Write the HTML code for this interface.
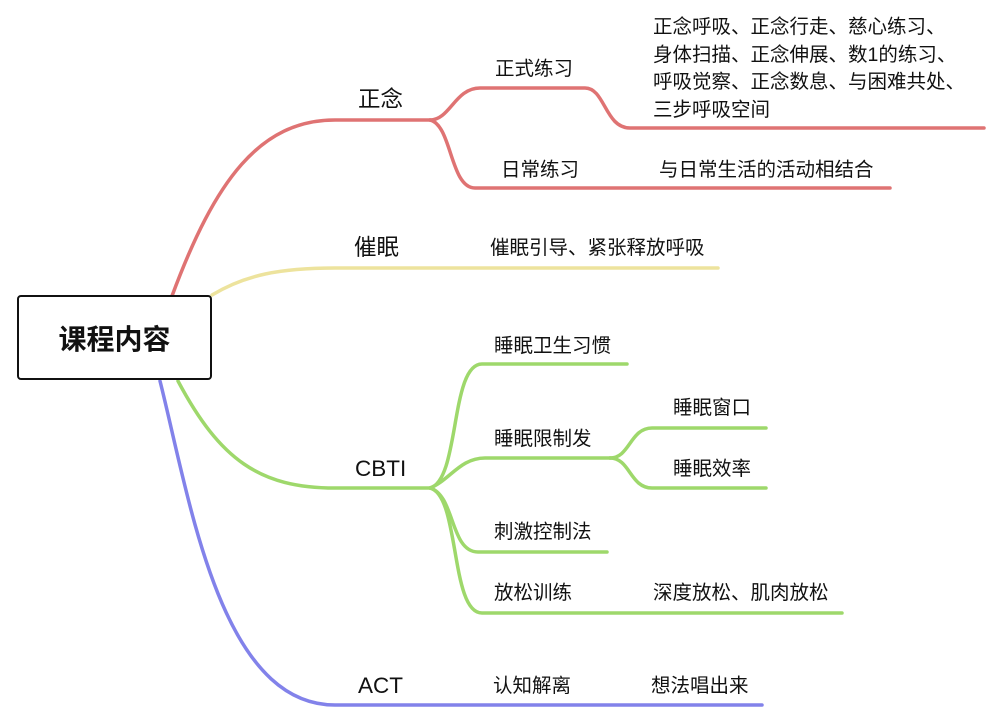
<!DOCTYPE html>
<html><head><meta charset="utf-8"><style>
body{margin:0;background:#fff;width:1008px;height:712px;overflow:hidden;position:relative;font-family:"Liberation Sans","Noto Sans CJK SC",sans-serif;}
.t{position:absolute;font-size:19.5px;color:#111;white-space:nowrap;line-height:24px}
.l{font-size:22.5px}
</style></head><body>
<svg width="1008" height="712" style="position:absolute;left:0;top:0" fill="none" stroke-linecap="round">
<g stroke="#df7373" stroke-width="3.5">
<path d="M172 296 C215 180 260 120 335 120 L430 120"/>
<path d="M430 120 C450 120 455 88 480 88 L585 88 C605 88 605 128 630 128 L984 128"/>
<path d="M430 120 C452 125 450 188 475 188 L890 188"/>
</g>
<path d="M212 295 C245 275 280 268 335 268 L718 268" stroke="#ede39d" stroke-width="3.5"/>
<g stroke="#9ed86b" stroke-width="3.5">
<path d="M178 381 C220 460 260 488 335 488 L430 488"/>
<path d="M430 488 C460 480 450 364 482 364 L627 364"/>
<path d="M430 488 C450 480 460 458 485 458 L610 458"/>
<path d="M610 458 C630 458 630 428 652 428 L766 428"/>
<path d="M610 458 C630 458 630 488 652 488 L766 488"/>
<path d="M430 488 C455 495 450 552 478 552 L607 552"/>
<path d="M430 488 C460 495 450 613 482 613 L842 613"/>
</g>
<path d="M160 381 C190 500 220 705 335 705 L762 705" stroke="#8282ea" stroke-width="3.5"/>
</svg>
<div style="position:absolute;left:17px;top:295px;width:191px;height:81px;border:2.5px solid #111;border-radius:4px;background:#fff;display:flex;align-items:center;justify-content:center;font-size:28px;font-weight:bold;color:#111">课程内容</div>
<div class="t l" style="left:358px;top:88px">正念</div>
<div class="t l" style="left:354px;top:236px">催眠</div>
<div class="t l" style="left:355px;top:457px">CBTI</div>
<div class="t l" style="left:358px;top:674px">ACT</div>
<div class="t" style="left:495px;top:57px">正式练习</div>
<div class="t" style="left:653px;top:14px;line-height:27.5px">正念呼吸、正念行走、慈心练习、<br>身体扫描、正念伸展、数1的练习、<br>呼吸觉察、正念数息、与困难共处、<br>三步呼吸空间</div>
<div class="t" style="left:501px;top:158px">日常练习</div>
<div class="t" style="left:659px;top:158px">与日常生活的活动相结合</div>
<div class="t" style="left:490px;top:236px">催眠引导、紧张释放呼吸</div>
<div class="t" style="left:494px;top:334px">睡眠卫生习惯</div>
<div class="t" style="left:494px;top:427px">睡眠限制发</div>
<div class="t" style="left:673px;top:396px">睡眠窗口</div>
<div class="t" style="left:673px;top:457px">睡眠效率</div>
<div class="t" style="left:494px;top:520px">刺激控制法</div>
<div class="t" style="left:494px;top:581px">放松训练</div>
<div class="t" style="left:653px;top:581px">深度放松、肌肉放松</div>
<div class="t" style="left:493px;top:674px">认知解离</div>
<div class="t" style="left:651px;top:674px">想法唱出来</div>
</body></html>
